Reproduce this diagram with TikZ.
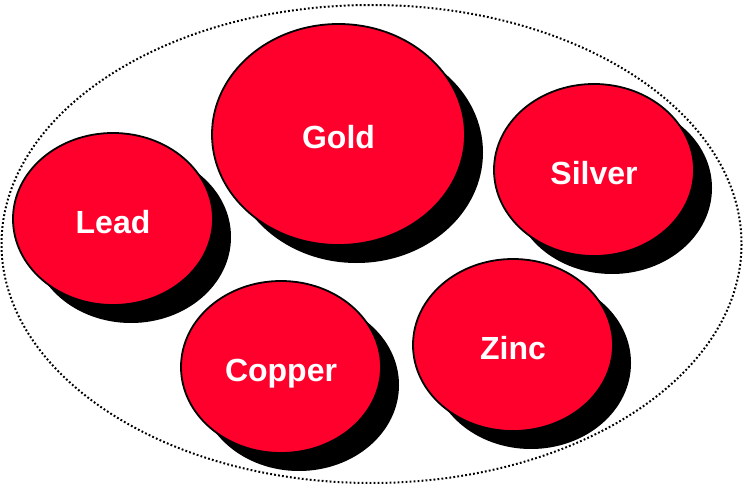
\documentclass[tikz,border=0pt]{standalone}
\usepackage{fontspec}
\setmainfont{Liberation Sans}
\usetikzlibrary{shapes.geometric,shadows}
\definecolor{coinred}{RGB}{255,0,45}
\tikzset{
  coin/.style={ellipse, draw=black, line width=1.8pt, fill=coinred,
    inner sep=0pt, text=white, font=\bfseries\fontsize{32}{36}\selectfont,
    text height=28pt, text depth=0pt,
    drop shadow={shadow xshift=18pt, shadow yshift=-18pt, fill=black, opacity=1}},
  smallcoin/.style={coin, minimum width=200pt, minimum height=172pt},
  group/.style={draw=black, line width=2pt, dash pattern=on 1.8pt off 2.2pt}
}
\begin{document}
\begin{tikzpicture}[x=1pt, y=-1pt]
  \useasboundingbox (0,0) rectangle (744,484);
  % dotted boundary around the whole set
  \draw[group] (371.5,244) ellipse [x radius=370, y radius=239];
  % the metals
  \node[coin, minimum width=253pt, minimum height=221pt] (gold) at (338.5,134.5) {Gold};
  \node[smallcoin] (lead) at (113,219) {Lead};
  \node[smallcoin] (silver) at (594,170) {Silver};
  \node[smallcoin] (copper) at (281,367) {Copper};
  \node[smallcoin] (zinc) at (513,345) {Zinc};
\end{tikzpicture}
\end{document}
